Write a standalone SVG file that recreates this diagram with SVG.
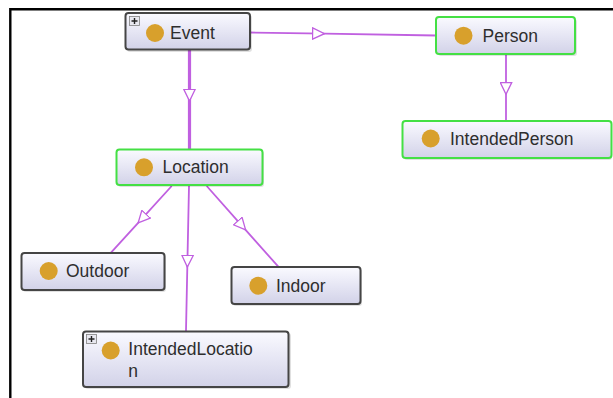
<svg xmlns="http://www.w3.org/2000/svg" width="613" height="398" viewBox="0 0 613 398">
<defs>
<linearGradient id="nodeFill" x1="0" y1="0" x2="0" y2="1">
<stop offset="0" stop-color="#fafaff"/>
<stop offset="0.5" stop-color="#e6e6f4"/>
<stop offset="1" stop-color="#d2d2e8"/>
</linearGradient>
<marker id="tri" viewBox="0 0 13 13" refX="13" refY="6.5" markerWidth="13" markerHeight="13" markerUnits="userSpaceOnUse" orient="auto">
<path d="M0.6,0.8 L12.4,6.5 L0.6,12.2 Z" fill="#ffffff" stroke="#c060e0" stroke-width="1.3"/>
</marker>
<g id="plus">
<rect x="0" y="0" width="10" height="9" fill="#e8e8f0" stroke="#808080" stroke-width="0.8"/>
<path d="M2,4.5 H8 M5,1.5 V7.5" stroke="#222" stroke-width="1.4"/>
</g>
</defs>
<style>
.box{fill:url(#nodeFill);stroke-width:2}
.dark{stroke:#454545}
.green{stroke:#44e044}
.shadow{fill:#000;opacity:0.12}
.dot{fill:#d8a02c}
.lbl{font-family:"Liberation Sans",Arial,sans-serif;font-size:17.5px;fill:#2e2e2e}
.edge{fill:none;stroke:#c060e0;stroke-width:1.8;marker-mid:url(#tri)}
</style>
<rect x="0" y="0" width="613" height="398" fill="#ffffff"/>
<path d="M10.3,398 V9.2 H613" fill="none" stroke="#000" stroke-width="2.4"/>

<g id="connectors">
<path class="edge" d="M250,32.5 L325,33.7 L436,35.5"/>
<path class="edge" d="M189.5,50 L189.5,101.7 L189.5,149" style="stroke-width:3.2"/>
<path class="edge" d="M506,54 L506,95 L506,121"/>
<path class="edge" d="M171.7,186 L137.7,223.4 L111,252.7"/>
<path class="edge" d="M189,186 L187.3,267.7 L186,331"/>
<path class="edge" d="M206.7,186 L246,230.3 L278.3,266.7"/>
</g>

<g id="node-event">
<rect class="shadow" x="127" y="15" width="125" height="37" rx="3"/>
<rect class="box dark" x="125.5" y="13" width="124.5" height="36.5" rx="3"/>
<use href="#plus" x="129.5" y="16.5"/>
<circle class="dot" cx="155" cy="33" r="9"/>
<text class="lbl" x="170" y="38.5">Event</text>
</g>

<g id="node-person">
<rect class="shadow" x="438" y="19" width="139" height="37" rx="3"/>
<rect class="box green" x="436" y="17" width="139" height="37" rx="3"/>
<circle class="dot" cx="463.5" cy="35.7" r="9"/>
<text class="lbl" x="482.5" y="41.5">Person</text>
</g>

<g id="node-intendedperson">
<rect class="shadow" x="404" y="123" width="208" height="37" rx="3"/>
<rect class="box green" x="402.5" y="121" width="209" height="37" rx="3"/>
<circle class="dot" cx="430.7" cy="138.5" r="9"/>
<text class="lbl" x="450" y="145">IntendedPerson</text>
</g>

<g id="node-location">
<rect class="shadow" x="118" y="151" width="146" height="36" rx="3"/>
<rect class="box green" x="116.5" y="149.5" width="146" height="35.5" rx="3"/>
<circle class="dot" cx="144" cy="167.3" r="9"/>
<text class="lbl" x="162.5" y="173.3">Location</text>
</g>

<g id="node-outdoor">
<rect class="shadow" x="23" y="255" width="143" height="37" rx="3"/>
<rect class="box dark" x="21.5" y="253" width="143" height="37" rx="3"/>
<circle class="dot" cx="48.7" cy="271" r="9"/>
<text class="lbl" x="66" y="277">Outdoor</text>
</g>

<g id="node-indoor">
<rect class="shadow" x="233" y="269" width="129" height="37" rx="3"/>
<rect class="box dark" x="231.5" y="267" width="129" height="37" rx="3"/>
<circle class="dot" cx="258.3" cy="285.7" r="9"/>
<text class="lbl" x="276" y="291.7">Indoor</text>
</g>

<g id="node-intendedlocation">
<rect class="shadow" x="85" y="333" width="206" height="56" rx="3"/>
<rect class="box dark" x="83" y="331.5" width="205.5" height="55.5" rx="3"/>
<use href="#plus" x="86.5" y="334.5"/>
<circle class="dot" cx="110.7" cy="350.5" r="9"/>
<text class="lbl" x="128.3" y="355">IntendedLocatio<tspan x="128.3" y="376.5">n</tspan></text>
</g>
</svg>
